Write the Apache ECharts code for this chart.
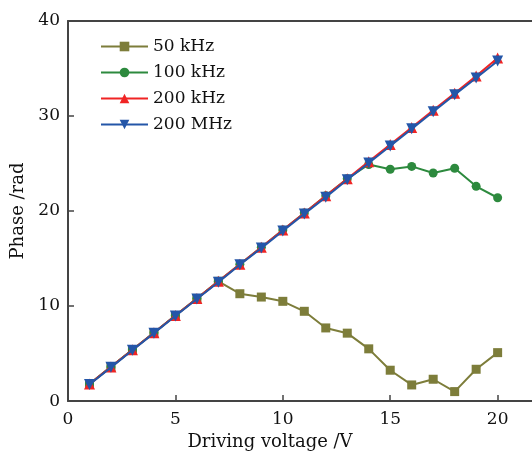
<!DOCTYPE html>
<html>
<head>
<meta charset="utf-8">
<script src="https://cdn.jsdelivr.net/npm/echarts@6/dist/echarts.min.js"></script>
<style>
  html, body { margin: 0; padding: 0; background: #fff; }
  #chart { width: 532px; height: 456px; }
</style>
</head>
<body>
<div id="chart"></div>
<script>
// 驱动电压 (V)
const voltage = [1, 2, 3, 4, 5, 6, 7, 8, 9, 10, 11, 12, 13, 14, 15, 16, 17, 18, 19, 20]

// 各频率下的相位 (rad)
const phase50k = [1.8, 3.6, 5.4, 7.2, 9.0, 10.8, 12.6, 11.3, 10.95, 10.5, 9.45, 7.7, 7.15, 5.5, 3.25, 1.7, 2.3, 1.0, 3.35, 5.1]
const phase100k = [1.8, 3.6, 5.4, 7.2, 9.0, 10.8, 12.6, 14.4, 16.2, 18.0, 19.8, 21.6, 23.4, 24.9, 24.4, 24.7, 24.0, 24.5, 22.6, 21.4]
const phase200k = [1.8, 3.6, 5.4, 7.2, 9.0, 10.8, 12.6, 14.4, 16.2, 18.0, 19.8, 21.6, 23.4, 25.2, 27.0, 28.8, 30.6, 32.4, 34.2, 36.1]
const phase200M = [1.75, 3.55, 5.35, 7.15, 8.95, 10.75, 12.5, 14.35, 16.1, 17.9, 19.7, 21.45, 23.3, 25.05, 26.85, 28.65, 30.45, 32.25, 34.0, 35.8]

const seriesNames = ['50 kHz', '100 kHz', '200 kHz', '200 MHz']

const font = 'DejaVu Serif'
const textColor = '#111'
const toPairs = (ys) => voltage.map((x, i) => [x, ys[i]])

const chart = echarts.init(document.getElementById('chart'))

const makeSeries = (name, data, color, symbol, size, z) => ({
  name: name,
  type: 'line',
  data: toPairs(data),
  symbol: symbol,
  symbolSize: size,
  z: z,
  lineStyle: { color: color, width: 2 },
  itemStyle: { color: color },
  emphasis: { disabled: true }
})

chart.setOption({
  animation: false,
  textStyle: { fontFamily: font },
  grid: {
    left: 68,
    right: 0,
    top: 21,
    bottom: 54
  },
  legend: {
    orient: 'vertical',
    left: 95,
    top: 33,
    itemWidth: 47,
    itemHeight: 12,
    itemGap: 9,
    data: seriesNames,
    textStyle: { fontFamily: font, fontSize: 17, color: textColor }
  },
  xAxis: [
    {
      type: 'value',
      min: 0,
      max: 21.6,
      interval: 5,
      name: 'Driving voltage /V',
      nameLocation: 'middle',
      nameGap: 31,
      nameTextStyle: { fontFamily: font, fontSize: 18, color: textColor, padding: [0, 60, 0, 0] },
      splitLine: { show: false },
      axisLine: { lineStyle: { color: '#444', width: 2 } },
      axisTick: { inside: true, length: 6, lineStyle: { color: '#444', width: 1.5 } },
      axisLabel: { fontFamily: font, fontSize: 17, color: textColor, showMaxLabel: false, margin: 10 }
    },
    {
      type: 'value',
      position: 'top',
      min: 0,
      max: 21.6,
      axisLine: { show: true, onZero: false, lineStyle: { color: '#444', width: 2 } },
      axisTick: { show: false },
      axisLabel: { show: false },
      splitLine: { show: false }
    }
  ],
  yAxis: {
    type: 'value',
    min: 0,
    max: 40,
    interval: 10,
    name: 'Phase /rad',
    nameLocation: 'middle',
    nameGap: 40,
    nameTextStyle: { fontFamily: font, fontSize: 18, color: textColor },
    splitLine: { show: false },
    axisLine: { show: true, lineStyle: { color: '#444', width: 2 } },
    axisTick: { inside: true, length: 6, lineStyle: { color: '#444', width: 1.5 } },
    axisLabel: { fontFamily: font, fontSize: 17, color: textColor, margin: 8 }
  },
  series: [
    makeSeries(seriesNames[0], phase50k, '#7d7d3a', 'rect', 9, 2),
    makeSeries(seriesNames[1], phase100k, '#2d8a3e', 'circle', 9, 3),
    makeSeries(seriesNames[2], phase200k, '#f02424', 'triangle', 11, 4),
    {
      ...makeSeries(seriesNames[3], phase200M, '#2456a8', 'triangle', 11, 5),
      symbolRotate: 180
    }
  ]
})
</script>
</body>
</html>
